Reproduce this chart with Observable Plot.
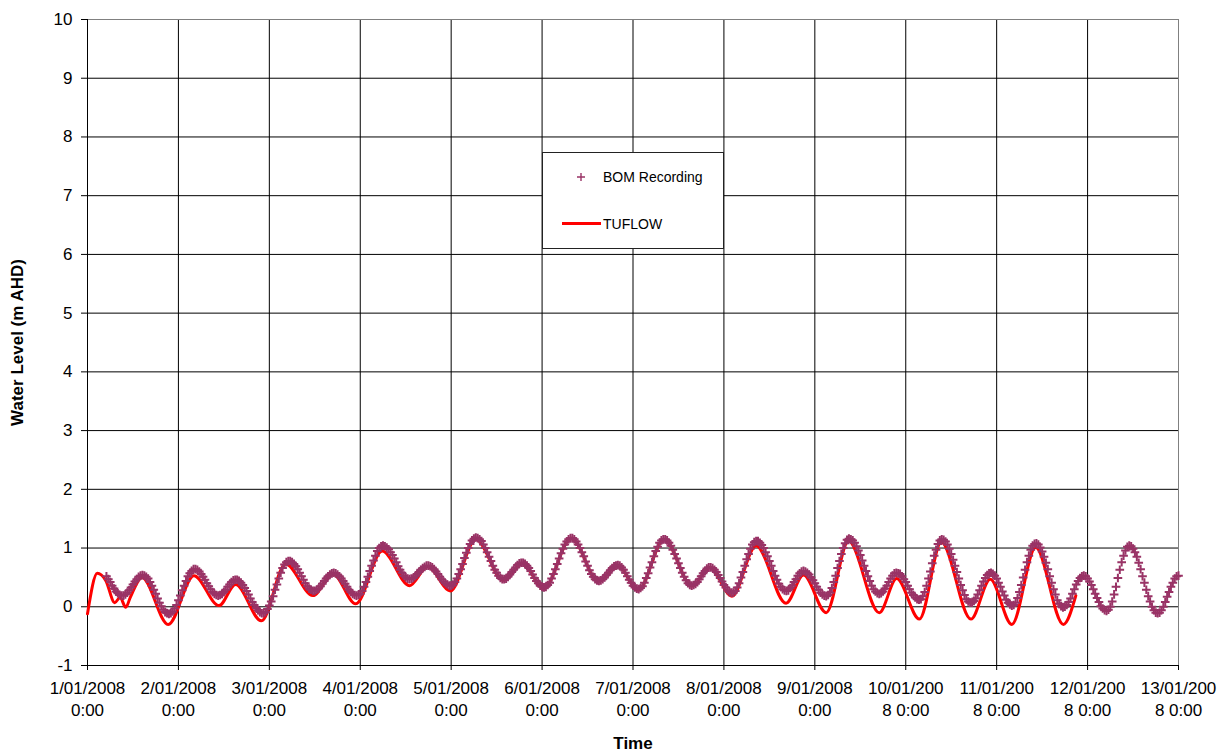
<!DOCTYPE html>
<html>
<head>
<meta charset="utf-8">
<script src="https://cdn.jsdelivr.net/npm/d3@7"></script>
<script src="https://cdn.jsdelivr.net/npm/@observablehq/plot@0.6"></script>
<style>
  html, body { margin: 0; padding: 0; background: #fff; }
  #wrap { position: relative; width: 1223px; height: 752px; font-family: "Liberation Sans", Arial, sans-serif; }
  #wrap svg g[aria-label="x-axis label"], #wrap svg g[aria-label="y-axis label"] { font-weight: bold; font-size: 17px; }
  #legend { position: absolute; left: 542px; top: 152px; width: 180px; height: 95px; border: 1px solid #222; background: #fff; font-size: 14px; color: #000; }
  #legend .item { position: absolute; left: 60px; line-height: 16px; }
</style>
</head>
<body>
<div id="wrap">
  <div id="legend">
    <svg style="position:absolute;left:33px;top:19px" width="10" height="10"><path d="M1,5H9M5,1V9" stroke="#993366" stroke-width="1.4"/></svg>
    <span class="item" style="top:16px">BOM Recording</span>
    <div style="position:absolute;left:19px;top:69px;width:39px;height:3px;background:#ff0000"></div>
    <span class="item" style="top:63px">TUFLOW</span>
  </div>
</div>
<script>
// Gauge record (BOM), one reading every 30 minutes from 1/01/2008 05:00 to 13/01/2008 00:00
const bomFirstHour = 5;
const bomStepHours = 0.5;
const bomLevels = [
  // 1/01
  0.52, 0.47, 0.42, 0.36, 0.31, 0.26, 0.23, 0.20, 0.19, 0.19, 0.21, 0.24,
  0.28, 0.33, 0.38, 0.43, 0.47, 0.51, 0.53, 0.54, 0.53, 0.51, 0.48, 0.42,
  0.36, 0.29, 0.22, 0.14, 0.07, 0.01, -0.05, -0.09, -0.11, -0.12, -0.11, -0.08,
  -0.03, 0.03,
  // 2/01
  0.11, 0.19, 0.28, 0.36, 0.44, 0.52, 0.57, 0.61, 0.64, 0.64, 0.63, 0.60,
  0.56, 0.51, 0.46, 0.40, 0.35, 0.30, 0.25, 0.22, 0.20, 0.19, 0.20, 0.22,
  0.25, 0.29, 0.34, 0.38, 0.42, 0.45, 0.46, 0.46, 0.44, 0.41, 0.37, 0.32,
  0.27, 0.21, 0.14, 0.08, 0.03, -0.02, -0.06, -0.09, -0.11, -0.11, -0.09, -0.04,
  // 3/01
  0.02, 0.09, 0.18, 0.29, 0.38, 0.48, 0.58, 0.66, 0.72, 0.76, 0.78, 0.78,
  0.76, 0.73, 0.69, 0.64, 0.58, 0.52, 0.46, 0.40, 0.35, 0.31, 0.29, 0.27,
  0.27, 0.29, 0.31, 0.35, 0.39, 0.44, 0.48, 0.52, 0.55, 0.57, 0.58, 0.57,
  0.55, 0.52, 0.48, 0.44, 0.39, 0.34, 0.29, 0.25, 0.22, 0.20, 0.19, 0.20,
  // 4/01
  0.22, 0.27, 0.34, 0.42, 0.51, 0.61, 0.70, 0.79, 0.87, 0.95, 1.00, 1.03,
  1.04, 1.03, 1.01, 0.98, 0.93, 0.88, 0.82, 0.76, 0.69, 0.63, 0.58, 0.53,
  0.50, 0.48, 0.47, 0.48, 0.49, 0.52, 0.56, 0.59, 0.63, 0.66, 0.68, 0.70,
  0.70, 0.69, 0.67, 0.64, 0.60, 0.56, 0.51, 0.47, 0.43, 0.40, 0.38, 0.36,
  // 5/01
  0.36, 0.38, 0.42, 0.48, 0.56, 0.64, 0.73, 0.83, 0.92, 1.00, 1.07, 1.13,
  1.16, 1.18, 1.17, 1.15, 1.12, 1.06, 1.00, 0.93, 0.85, 0.78, 0.70, 0.63,
  0.58, 0.53, 0.49, 0.47, 0.47, 0.48, 0.51, 0.55, 0.59, 0.63, 0.67, 0.71,
  0.74, 0.75, 0.75, 0.73, 0.70, 0.66, 0.61, 0.55, 0.49, 0.44, 0.40, 0.36,
  // 6/01
  0.34, 0.33, 0.34, 0.37, 0.41, 0.48, 0.56, 0.64, 0.73, 0.82, 0.91, 0.99,
  1.06, 1.11, 1.15, 1.17, 1.17, 1.15, 1.11, 1.06, 1.00, 0.93, 0.86, 0.77,
  0.70, 0.62, 0.56, 0.51, 0.47, 0.45, 0.44, 0.45, 0.47, 0.50, 0.54, 0.58,
  0.62, 0.66, 0.69, 0.70, 0.71, 0.70, 0.67, 0.63, 0.58, 0.52, 0.46, 0.41,
  // 7/01
  0.36, 0.33, 0.31, 0.30, 0.32, 0.35, 0.41, 0.49, 0.57, 0.67, 0.76, 0.86,
  0.95, 1.02, 1.09, 1.13, 1.15, 1.15, 1.13, 1.09, 1.04, 0.97, 0.90, 0.82,
  0.74, 0.66, 0.58, 0.51, 0.45, 0.40, 0.37, 0.36, 0.37, 0.39, 0.42, 0.47,
  0.52, 0.57, 0.61, 0.65, 0.67, 0.67, 0.66, 0.63, 0.59, 0.54, 0.49, 0.43,
  // 8/01
  0.37, 0.33, 0.28, 0.25, 0.24, 0.24, 0.27, 0.33, 0.40, 0.50, 0.59, 0.70,
  0.81, 0.90, 0.99, 1.06, 1.10, 1.12, 1.12, 1.09, 1.05, 1.00, 0.93, 0.86,
  0.78, 0.70, 0.61, 0.53, 0.46, 0.39, 0.34, 0.30, 0.28, 0.27, 0.28, 0.32,
  0.36, 0.42, 0.47, 0.53, 0.57, 0.60, 0.61, 0.60, 0.58, 0.55, 0.50, 0.45,
  // 9/01
  0.40, 0.34, 0.29, 0.24, 0.21, 0.19, 0.18, 0.20, 0.24, 0.32, 0.42, 0.53,
  0.66, 0.78, 0.90, 1.00, 1.08, 1.14, 1.16, 1.15, 1.13, 1.09, 1.03, 0.96,
  0.88, 0.79, 0.70, 0.61, 0.52, 0.44, 0.36, 0.30, 0.26, 0.23, 0.22, 0.23,
  0.26, 0.31, 0.36, 0.42, 0.48, 0.53, 0.57, 0.58, 0.57, 0.56, 0.52, 0.47,
  // 10/01
  0.42, 0.36, 0.30, 0.24, 0.20, 0.16, 0.13, 0.12, 0.13, 0.18, 0.25, 0.36,
  0.48, 0.60, 0.74, 0.87, 0.97, 1.07, 1.13, 1.15, 1.14, 1.11, 1.06, 0.99,
  0.90, 0.80, 0.70, 0.59, 0.48, 0.37, 0.28, 0.20, 0.13, 0.09, 0.07, 0.07,
  0.10, 0.14, 0.21, 0.28, 0.36, 0.43, 0.49, 0.54, 0.57, 0.58, 0.56, 0.53,
  // 11/01
  0.48, 0.41, 0.34, 0.26, 0.19, 0.12, 0.07, 0.04, 0.02, 0.03, 0.07, 0.15,
  0.25, 0.37, 0.50, 0.63, 0.76, 0.87, 0.97, 1.04, 1.07, 1.08, 1.06, 1.01,
  0.94, 0.85, 0.75, 0.64, 0.52, 0.41, 0.30, 0.21, 0.11, 0.05, 0.01, -0.01,
  0.00, 0.03, 0.08, 0.14, 0.22, 0.30, 0.38, 0.44, 0.49, 0.52, 0.53, 0.52,
  // 12/01
  0.48, 0.43, 0.37, 0.30, 0.22, 0.15, 0.08, 0.01, -0.03, -0.06, -0.07, -0.05,
  0.00, 0.09, 0.21, 0.34, 0.49, 0.63, 0.76, 0.87, 0.96, 1.02, 1.04, 1.03,
  0.99, 0.93, 0.85, 0.75, 0.64, 0.52, 0.41, 0.29, 0.18, 0.09, 0.00, -0.06,
  -0.10, -0.11, -0.10, -0.06, 0.00, 0.08, 0.17, 0.25, 0.34, 0.41, 0.48, 0.52,
  // 13/01
  0.53
];

// TUFLOW model levels: turning points of the simulated tide (hours after 1/01/2008 0:00)
const tuflowHours = [
  0, 2.6, 4.8, 7.2, 8.6, 10.1, 11.3, 14.4, 21.3, 28.1, 34.7, 39.1, 45.9, 52.3, 59.5, 64.8,
  70.8, 77.8, 85.0, 89.8, 95.8, 102.5, 109.8, 114.7, 120.5, 127.7, 134.9, 139.9, 145.4, 152.2,
  159.6, 164.3, 170.1, 176.5, 184.4, 189.0, 195.0, 200.9, 209.0, 213.6, 219.6, 225.4, 233.2,
  238.3, 244.0, 250.3, 257.6, 260.9
];
const tuflowLevels = [
  -0.12, 0.57, 0.45, 0.07, 0.16, -0.01, 0.16, 0.50, -0.30, 0.53, 0.02, 0.38, -0.24, 0.73, 0.19, 0.56,
  0.05, 0.95, 0.36, 0.68, 0.27, 1.15, 0.45, 0.74, 0.31, 1.17, 0.43, 0.71, 0.28, 1.15,
  0.35, 0.67, 0.18, 1.04, 0.06, 0.54, -0.10, 1.12, -0.10, 0.48, -0.21, 1.10, -0.21,
  0.47, -0.30, 1.01, -0.30, 0.19
];

const xTickLabels = [
  "1/01/2008\n0:00", "2/01/2008\n0:00", "3/01/2008\n0:00", "4/01/2008\n0:00", "5/01/2008\n0:00",
  "6/01/2008\n0:00", "7/01/2008\n0:00", "8/01/2008\n0:00", "9/01/2008\n0:00", "10/01/200\n8 0:00",
  "11/01/200\n8 0:00", "12/01/200\n8 0:00", "13/01/200\n8 0:00"
];
const yTickValues = [-1, 0, 1, 2, 3, 4, 5, 6, 7, 8, 9, 10];
const yTickLabels = ["-1", "0", "1", "2", "3", "4", "5", "6", "7", "8", "9", "10"];

const startMs = Date.UTC(2008, 0, 1);
const HOUR = 3600e3, DAY = 24 * HOUR;
const atHour = h => new Date(startMs + h * HOUR);

const bom = bomLevels.map((v, i) => ({time: atHour(bomFirstHour + i * bomStepHours), level: v}));
const tuflow = tuflowHours.map((h, i) => ({time: atHour(h), level: tuflowLevels[i]}));
const dayTicks = xTickLabels.map((_, i) => new Date(startMs + i * DAY));

const chart = Plot.plot({
  width: 1223,
  height: 752,
  marginLeft: 87,
  marginRight: 45,
  marginTop: 19,
  marginBottom: 87,
  style: {fontFamily: '"Liberation Sans", Arial, sans-serif', fontSize: "17px", color: "#000", background: "#fff"},
  x: {type: "utc", domain: [dayTicks[0], dayTicks[dayTicks.length - 1]]},
  y: {domain: [-1, 10]},
  marks: [
    Plot.gridY(yTickValues, {stroke: "#000", strokeOpacity: 1}),
    Plot.gridX(dayTicks, {stroke: "#000", strokeOpacity: 1}),
    Plot.frame({stroke: "#808080"}),
    Plot.ruleX([dayTicks[0]], {stroke: "#000"}),
    Plot.ruleY([-1], {stroke: "#000"}),
    Plot.axisY(yTickValues, {
      tickSize: 6, tickPadding: 9,
      tickFormat: d => yTickLabels[yTickValues.indexOf(d)],
      label: "Water Level (m AHD)", labelAnchor: "center", labelArrow: "none", labelOffset: 77
    }),
    Plot.axisX(dayTicks, {
      tickSize: 5, tickPadding: 9, lineHeight: 1.24,
      tickFormat: d => xTickLabels[Math.round((d - startMs) / DAY)],
      label: "Time", labelAnchor: "center", labelArrow: "none", labelOffset: 83
    }),
    Plot.line(tuflow, {x: "time", y: "level", stroke: "#ff0000", strokeWidth: 3, curve: "monotone-x"}),
    Plot.dot(bom, {x: "time", y: "level", symbol: "plus", r: 2.9, stroke: "#993366", strokeWidth: 2})
  ]
});
document.getElementById("wrap").prepend(chart);
</script>
</body>
</html>
